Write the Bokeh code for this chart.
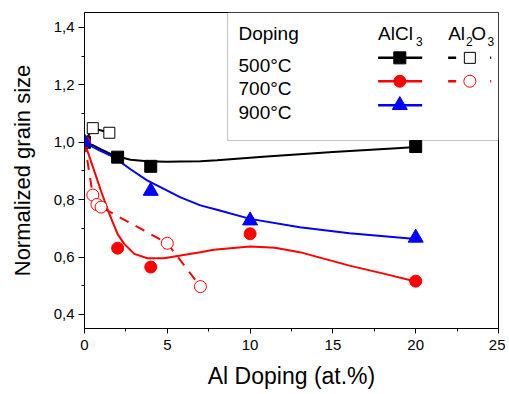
from bokeh.plotting import figure
from bokeh.models import Range1d, FixedTicker, CustomJSTickFormatter, BoxAnnotation, Label
from bokeh.embed import file_html
from bokeh.resources import INLINE

FONT = "Liberation Sans"

# ---- data ----
x_alcl3_500 = [0, 2, 4, 20]
y_alcl3_500 = [1.0, 0.948, 0.916, 0.985]
x_al2o3_500 = [0, 0.5, 1.5]
y_al2o3_500 = [1.0, 1.049, 1.033]

x_alcl3_700 = [0, 2, 4, 10, 20]
y_alcl3_700 = [1.0, 0.631, 0.565, 0.681, 0.516]
x_al2o3_700 = [0, 0.5, 0.75, 1.0, 5, 7]
y_al2o3_700 = [1.0, 0.816, 0.783, 0.774, 0.648, 0.497]

x_alcl3_900 = [0, 4, 10, 20]
y_alcl3_900 = [1.0, 0.83, 0.727, 0.667]

# fitted curves
fit500_x = [0, 0.5, 1.0, 1.77, 2.78, 3.78, 5.0, 5.8, 7.0, 8.0, 11.0, 15.0, 19.1, 20]
fit500_y = [1.0, 0.99, 0.975, 0.954, 0.939, 0.934, 0.932, 0.933, 0.934, 0.937, 0.950, 0.966, 0.980, 0.983]
fit700_x = [0, 0.5, 1.0, 1.5, 2.0, 2.4, 3.0, 3.8, 4.8, 5.8, 7.0, 7.8, 10.0, 11.5, 13.0, 16.0, 18.0, 20]
fit700_y = [1.0, 0.915, 0.83, 0.75, 0.68, 0.646, 0.611, 0.596, 0.596, 0.605, 0.617, 0.625, 0.637, 0.632, 0.617, 0.570, 0.543, 0.515]
fit900_x = [0, 0.5, 0.9, 1.77, 2.8, 3.78, 5.8, 7.0, 8.0, 10.0, 13.0, 16.0, 20]
fit900_y = [1.0, 0.984, 0.972, 0.948, 0.905, 0.867, 0.808, 0.780, 0.765, 0.733, 0.704, 0.683, 0.663]

x_ticks = [0, 5, 10, 15, 20, 25]
x_minor = [2.5, 7.5, 12.5, 17.5, 22.5]
y_ticks = [0.4, 0.6, 0.8, 1.0, 1.2, 1.4]
y_minor = [0.5, 0.7, 0.9, 1.1, 1.3]

legend_rows = ["500°C", "700°C", "900°C"]

# ---- figure ----
p = figure(width=505, height=392, x_range=Range1d(0, 25), y_range=Range1d(0.351, 1.452),
           output_backend="svg", toolbar_location=None,
           min_border_left=84, min_border_right=7, min_border_top=12, min_border_bottom=64)
p.grid.visible = False
p.outline_line_color = "black"
p.outline_line_width = 1
p.background_fill_color = "white"

p.xaxis.ticker = FixedTicker(ticks=x_ticks, minor_ticks=x_minor)
p.yaxis.ticker = FixedTicker(ticks=y_ticks, minor_ticks=y_minor)
p.yaxis.formatter = CustomJSTickFormatter(code="return tick.toFixed(1).replace('.', ',');")
p.xaxis.formatter = CustomJSTickFormatter(code="return tick.toFixed(0);")

for ax in (p.xaxis[0], p.yaxis[0]):
    ax.axis_line_color = "black"
    ax.major_tick_line_color = "black"
    ax.minor_tick_line_color = "black"
    ax.major_tick_in = 0
    ax.minor_tick_in = 0
    ax.minor_tick_out = 3
    ax.major_label_text_font = FONT
    ax.major_label_text_font_size = "15px"
    ax.major_label_text_color = "black"
    ax.axis_label_text_font = FONT
    ax.axis_label_text_font_style = "normal"
    ax.axis_label_text_color = "black"

p.xaxis.major_tick_out = 5
p.yaxis.major_tick_out = 6
p.xaxis.major_label_standoff = 6
p.yaxis.major_label_standoff = 4
p.xaxis.axis_label = "Al Doping (at.%)"
p.yaxis.axis_label = "Normalized grain size"
p.xaxis.axis_label_text_font_size = "23px"
p.yaxis.axis_label_text_font_size = "22px"
p.xaxis.axis_label_standoff = 10
p.yaxis.axis_label_standoff = 16

# legend box (underlay)
p.add_layout(BoxAnnotation(left=8.64, right=25, bottom=1.006, top=1.452, fill_color="white",
                           fill_alpha=1, line_color="#333333", line_width=1, level="underlay"))

# fitted lines
p.line(fit500_x, fit500_y, line_color="black", line_width=2)
p.line(fit900_x, fit900_y, line_color="blue", line_width=2)
p.line(fit700_x, fit700_y, line_color="red", line_width=2)

# Al2O3 dashed
p.line(x_al2o3_500, y_al2o3_500, line_color="black", line_width=2, line_dash="10 8")
p.line(x_al2o3_700, y_al2o3_700, line_color="red", line_width=2, line_dash="10 8")
p.scatter(x_al2o3_500[1:], y_al2o3_500[1:], marker="square", size=11, fill_color="white",
          line_color="black", line_width=1)
p.scatter(x_al2o3_700[1:], y_al2o3_700[1:], marker="circle", size=12, fill_color="white",
          line_color="red", line_width=1)

# AlCl3 markers
p.scatter(x_alcl3_500, y_alcl3_500, marker="square", size=12, color="black")
p.scatter(x_alcl3_700, y_alcl3_700, marker="circle", size=12, color="red")
p.scatter(x_alcl3_900, y_alcl3_900, marker="triangle", size=15, color="blue")

# ---- legend content ----
def lab(x, y, t, size="19px"):
    p.add_layout(Label(x=x, y=y, text=t, text_font=FONT, text_font_size=size,
                       text_color="black", text_baseline="alphabetic", text_align="left"))

lab(9.30, 1.378, "Doping")
lab(17.73, 1.378, "AlCl")
lab(20.02, 1.352, "3", "12px")
lab(21.96, 1.378, "Al")
lab(23.04, 1.352, "2", "12px")
lab(23.35, 1.378, "O")
lab(24.34, 1.352, "3", "12px")
row_y_text = [1.267, 1.186, 1.102]
row_y_line = [1.294, 1.2125, 1.129]
for t, yt in zip(legend_rows, row_y_text):
    lab(9.30, yt, t)

cols = ["black", "red", "blue"]
marks = ["square", "circle", "triangle"]
msz = [12, 12, 15]
for c, m, s, yl in zip(cols, marks, msz, row_y_line):
    p.line([17.73, 20.39], [yl, yl], line_color=c, line_width=2.5)
    p.scatter([19.04], [yl], marker=m, size=s, color=c)

for c, m, s, yl in zip(cols[:2], marks[:2], [11, 12], row_y_line[:2]):
    p.line([21.96, 24.56], [yl, yl], line_color=c, line_width=2.5, line_dash="8 34 3 20")
    p.scatter([23.27], [yl], marker=m, size=s, fill_color="white", line_color=c, line_width=1)

open("out.html", "w").write(file_html(p, INLINE))
